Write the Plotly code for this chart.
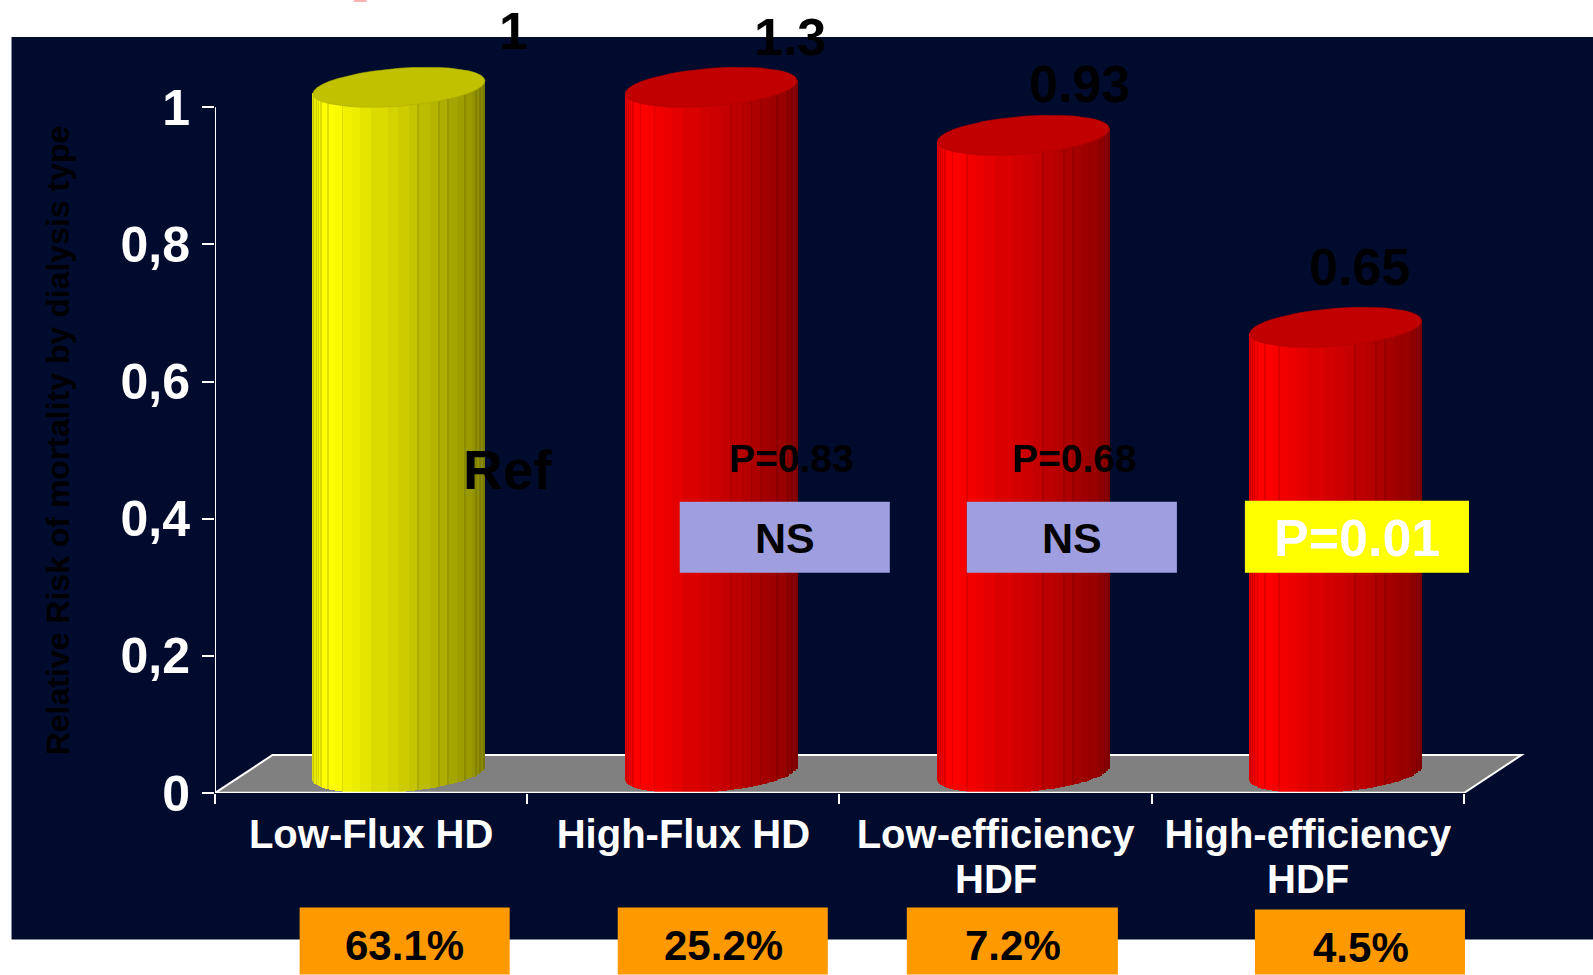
import numpy as np
import plotly.graph_objects as go

# ---- chart data ----
categories = ["Low-Flux HD", "High-Flux HD", "Low-efficiency", "High-efficiency"]
category_second_line = ["", "", "HDF", "HDF"]
relative_risk = [1, 1.3, 0.93, 0.65]
risk_labels = ["1", "1.3", "0.93", "0.65"]
patient_share = ["63.1%", "25.2%", "7.2%", "4.5%"]
y_ticks = [0, 0.2, 0.4, 0.6, 0.8, 1]
y_tick_text = ["0", "0,2", "0,4", "0,6", "0,8", "1"]
p_values = ["Ref", "P=0.83", "P=0.68"]
verdicts = ["NS", "NS", "P=0.01"]

# ---- canvas and plot geometry (pixels) ----
W, H = 1593, 975
PLOT_L, PLOT_R, PLOT_T, PLOT_B = 215.4, 1545.0, 40.0, 793.5
PX_PER_CAT = (1464.0 - 215.4) / 4
PX_PER_UNIT = 793.5 - 107.3
AXIS_TOP = 1.0

# paper coordinates are fractions of the plot area
def fx(px):
    return (px - PLOT_L) / (PLOT_R - PLOT_L)

def fy(py):
    return (PLOT_B - py) / (PLOT_B - PLOT_T)

# ---- cylinder geometry (axis units) ----
DEPTH_DX = 27.8 / PX_PER_CAT      # centre shift caused by the oblique view
RADIUS = 86.0 / PX_PER_CAT
MINOR = 19.0 / PX_PER_UNIT        # half height of the elliptical cap
TILT = 6.5 / PX_PER_UNIT          # the right end of the cap sits higher
RISE = 20.0 / PX_PER_UNIT

# facet outlines across the cylinder, with the shade of each facet
FACET_EDGES = np.array([24, 30, 37, 43, 50, 72, 90, 115, 140, 165, 198, 250, 280, 312,
                        343, 376, 406, 433, 457, 483, 503, 516, 528, 541], dtype=float)
FACET_EDGES = (FACET_EDGES - 24) / (541 - 24)
FACET_SHADE = [0.88, 0.92, 0.95, 0.98, 1.0, 1.0, 0.98, 0.95, 0.93, 0.90, 0.86, 0.83,
               0.80, 0.77, 0.74, 0.71, 0.68, 0.65, 0.62, 0.60, 0.58, 0.56, 0.54]
OUTLINED = {0, 1, 2, 3, 4, 6, 13, 15, 16, 18, 20, 21, 22}

def shade(base, k):
    return "rgb({},{},0)".format(int(base[0] * k), int(base[1] * k)) if base[1] else "rgb({},0,0)".format(int(base[0] * k))

def front_edge(level, u):
    return level + RISE + TILT * u - MINOR * np.sqrt(np.clip(1 - u ** 2, 0, 1))

def cylinder_traces(i, value, base):
    level = min(value, AXIS_TOP)
    centre = i + DEPTH_DX
    xs, widths, colours, bases, tops = [], [], [], [], []
    line_w = 1.1 / PX_PER_CAT
    for f, k in enumerate(FACET_SHADE):
        left = centre + RADIUS * (2 * FACET_EDGES[f] - 1)
        right = centre + RADIUS * (2 * FACET_EDGES[f + 1] - 1)
        solid_right = right - line_w if f in OUTLINED else right
        n = max(1, int(round((solid_right - left) * PX_PER_CAT / 3)))
        cuts = np.linspace(left, solid_right, n + 1)
        parts = [(cuts[j], cuts[j + 1], k) for j in range(n)]
        if f in OUTLINED:
            parts.append((solid_right, right, k * 0.88))
        for a, b, tone in parts:
            mid = (a + b) / 2
            u = (mid - centre) / RADIUS
            xs.append(mid)
            widths.append(b - a)
            colours.append(shade(base, tone))
            lo = front_edge(0, u)
            bases.append(lo)
            tops.append(front_edge(level, u) + 0.004 - lo)
    body = go.Bar(x=xs, y=tops, base=bases, width=widths,
                  marker=dict(color=colours, line=dict(width=0)),
                  showlegend=False, hoverinfo="skip")
    t = np.linspace(0, 2 * np.pi, 41)
    u = np.cos(t)
    cap = go.Scatter(x=centre + RADIUS * u,
                     y=level + RISE + TILT * u + MINOR * np.sin(t),
                     mode="lines", fill="toself",
                     fillcolor=shade(base, 0.76),
                     line=dict(color=shade(base, 0.68), width=0.6),
                     showlegend=False, hoverinfo="skip")
    return [body, cap]

fig = go.Figure()

colours_by_bar = [(255, 255), (255, 0), (255, 0), (255, 0)]
for i, v in enumerate(relative_risk):
    for tr in cylinder_traces(i, v, colours_by_bar[i]):
        fig.add_trace(tr)

# axis lines stop at the top tick and at the last category boundary
fig.add_trace(go.Scatter(x=[-0.5, -0.5], y=[0, AXIS_TOP], mode="lines",
                         line=dict(color="white", width=2), cliponaxis=False,
                         showlegend=False, hoverinfo="skip"))
fig.add_trace(go.Scatter(x=[-0.5, 3.5], y=[0, 0], mode="lines",
                         line=dict(color="white", width=2.5), cliponaxis=False,
                         showlegend=False, hoverinfo="skip"))

shapes = [
    dict(type="rect", xref="paper", yref="paper", x0=fx(12), x1=fx(W), y0=fy(940), y1=fy(37),
         fillcolor="#000b2e", line_width=0, layer="below"),
    dict(type="rect", xref="paper", yref="paper", x0=fx(354), x1=fx(367), y0=fy(2), y1=fy(0),
         fillcolor="#ffb4b4", line_width=0, layer="below"),
]

# grey floor of the 3-D box
floor_dx = 57.5 / PX_PER_CAT
floor_dy = 38.0 / PX_PER_UNIT
shapes.append(dict(type="path", xref="x", yref="y", layer="below",
                   path=f"M -0.5 0 L 3.5 0 L {3.5 + floor_dx} {floor_dy} L {-0.5 + floor_dx} {floor_dy} Z",
                   fillcolor="#808080", line=dict(color="white", width=2)))

def box(x0, x1, y0, y1, colour):
    return dict(type="rect", xref="paper", yref="paper", x0=fx(x0), x1=fx(x1), y0=fy(y1), y1=fy(y0),
                fillcolor=colour, line_width=0, layer="above")

shapes += [box(680, 890, 502, 573, "#9f9fdf"), box(967, 1177, 502, 573, "#9f9fdf"),
           box(1245, 1469, 501, 573, "#ffff00")]
shapes += [box(300, 510, 908, 975, "#ff9900"), box(618, 828, 908, 975, "#ff9900"),
           box(907, 1118, 908, 975, "#ff9900"), box(1255, 1465, 910, 975, "#ff9900")]

def note(text, x, y, size, colour="black", angle=0):
    return dict(text=text, xref="paper", yref="paper", x=fx(x), y=fy(y), xanchor="center", yanchor="middle",
                showarrow=False, textangle=angle,
                font=dict(family="Liberation Sans", size=size, color=colour, weight="bold"))

notes = [note("Relative Risk of mortality by dialysis type", 58, 441, 32, angle=-90)]
for txt, (x, y) in zip(risk_labels, [(514, 31), (790, 37), (1080, 84), (1360, 267)]):
    notes.append(note(txt, x, y, 52))
notes.append(note(p_values[0], 508, 470, 55))
notes.append(note(p_values[1], 792, 459, 39))
notes.append(note(p_values[2], 1075, 459, 39))
notes.append(note(verdicts[0], 785, 538, 43))
notes.append(note(verdicts[1], 1072, 538, 43))
notes.append(note(verdicts[2], 1357, 538, 52, colour="white"))
for txt, (x, y) in zip(patient_share, [(405, 946), (724, 946), (1013, 946), (1361, 948)]):
    notes.append(note(txt, x, y, 42))
for i, txt in enumerate(category_second_line):
    if txt:
        notes.append(note(txt, PLOT_L + (i + 0.5) * PX_PER_CAT, 880, 40, colour="white"))

fig.update_layout(
    width=W, height=H, autosize=False,
    margin=dict(l=PLOT_L, r=W - PLOT_R, t=PLOT_T, b=H - PLOT_B, pad=0),
    paper_bgcolor="white", plot_bgcolor="rgba(0,0,0,0)",
    barmode="overlay", bargap=0, showlegend=False,
    shapes=shapes, annotations=notes,
    xaxis=dict(range=[-0.5, -0.5 + (PLOT_R - PLOT_L) / PX_PER_CAT], showgrid=False, zeroline=False, showline=False,
               tickmode="array", tickvals=[0, 1, 2, 3], ticktext=categories,
               ticks="outside", ticklen=6, tickcolor="rgba(0,0,0,0)", ticklabelstandoff=0,
               tickfont=dict(family="Liberation Sans", size=40, color="white", weight="bold"),
               minor=dict(tickmode="array", tickvals=[-0.5, 0.5, 1.5, 2.5, 3.5], ticks="outside",
                          ticklen=10, tickwidth=2, tickcolor="white")),
    yaxis=dict(range=[0, (PLOT_B - PLOT_T) / PX_PER_UNIT], showgrid=False, zeroline=False, showline=False,
               tickmode="array", tickvals=y_ticks, ticktext=y_tick_text,
               ticks="outside", ticklen=12, tickwidth=2, tickcolor="white", ticklabelstandoff=2,
               tickfont=dict(family="Liberation Sans", size=50, color="white", weight="bold")),
)

fig.write_html("out.html", config=dict(displayModeBar=False))
